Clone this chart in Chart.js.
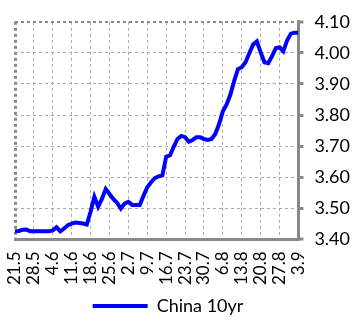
<!DOCTYPE html>
<html>
<head>
<meta charset="utf-8">
<script src="https://cdn.jsdelivr.net/npm/chart.js@4/dist/chart.umd.min.js"></script>
<style>
  body { margin: 0; background: #fff; overflow: hidden; }
</style>
</head>
<body>
<canvas id="myChart" width="362" height="320"></canvas>
<script>
// weekly tick labels (one every 5 trading days)
var weekLabels = ["21.5", "28.5", "4.6", "11.6", "18.6", "25.6", "2.7", "9.7",
  "16.7", "23.7", "30.7", "6.8", "13.8", "20.8", "27.8", "3.9"];

// China 10yr yield, daily
var china10yr = [
  3.426, 3.427, 3.431, 3.432, 3.426, 3.426, 3.426, 3.426, 3.426, 3.426,
  3.429, 3.439, 3.426, 3.435, 3.446, 3.451, 3.454, 3.453, 3.451, 3.448,
  3.489, 3.537, 3.505, 3.530, 3.562, 3.546, 3.530, 3.518, 3.499, 3.515,
  3.521, 3.511, 3.511, 3.511, 3.540, 3.568, 3.584, 3.597, 3.603, 3.606,
  3.666, 3.670, 3.698, 3.723, 3.733, 3.729, 3.714, 3.720, 3.729, 3.729,
  3.723, 3.720, 3.723, 3.739, 3.771, 3.812, 3.834, 3.866, 3.910, 3.948,
  3.954, 3.970, 3.999, 4.027, 4.037, 4.002, 3.970, 3.967, 3.989, 4.015,
  4.018, 4.005, 4.040, 4.062, 4.065, 4.065
];

var yMin = 3.40, yMax = 4.10, yStep = 0.1;

var points = china10yr.map(function (v, i) { return { x: i, y: v }; });

Chart.defaults.font.family = "Lato";
Chart.defaults.color = "#000";

// nudge the legend a bit left, like the original
var legendShift = {
  id: "legendShift",
  afterLayout: function (chart) {
    chart.legend.left -= 20;
    chart.legend.right -= 20;
  },
};

var ctx = document.getElementById("myChart").getContext("2d");
new Chart(ctx, {
  type: "line",
  data: {
    datasets: [
      {
        label: "China 10yr",
        data: points,
        borderColor: "#0000ff",
        backgroundColor: "#0000ff",
        borderWidth: 4,
        pointRadius: 0,
        tension: 0,
      },
    ],
  },
  plugins: [legendShift],
  options: {
    responsive: false,
    animation: false,
    layout: { padding: { top: 14, left: 15, right: 1, bottom: -5 } },
    plugins: {
      tooltip: { enabled: false },
      legend: {
        position: "bottom",
        labels: { boxWidth: 55, boxHeight: 0, padding: 0, font: { size: 18 } },
      },
    },
    scales: {
      x: {
        type: "linear",
        min: 0,
        max: china10yr.length - 1,
        ticks: {
          stepSize: 5,
          autoSkip: false,
          maxRotation: 90,
          minRotation: 90,
          padding: 12,
          font: { size: 17 },
          callback: function (v) { return weekLabels[v / 5]; },
        },
        grid: {
          drawTicks: false,
          color: function (c) { return c.index === 0 ? "#888" : "#aaa"; },
          lineWidth: function (c) {
            if (c.index === 0) return 3;
            if (c.index === weekLabels.length - 1) return 0;
            return 1;
          },
        },
        border: { color: "#888", width: 3, dash: [3, 3] },
      },
      y: {
        position: "right",
        min: yMin,
        max: yMax,
        ticks: {
          stepSize: yStep,
          padding: 11,
          font: { size: 18 },
          callback: function (v) { return v.toFixed(2); },
        },
        grid: {
          tickLength: 5,
          tickColor: "#888",
          tickWidth: 3,
          tickBorderDash: [],
          color: function (c) { return c.index === 7 ? "#888" : "#aaa"; },
          lineWidth: function (c) {
            if (c.index === 0) return 0;
            return c.index === 7 ? 2 : 1;
          },
        },
        border: { color: "#888", width: 3, dash: [3, 3] },
      },
    },
  },
});
</script>
</body>
</html>
